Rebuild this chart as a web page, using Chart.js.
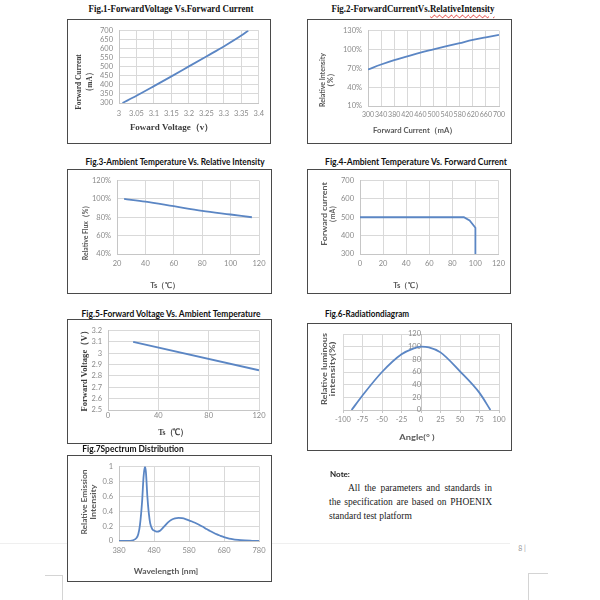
<!DOCTYPE html>
<html>
<head>
<meta charset="utf-8">
<script src="https://cdn.jsdelivr.net/npm/chart.js@4.4.1/dist/chart.umd.min.js"></script>
<style>
  html, body { margin: 0; padding: 0; background: #fff; }
  #page { position: relative; width: 600px; height: 600px; overflow: hidden; }
  .box { position: absolute; box-sizing: border-box; border: 1px solid #4a4a4a; background: #fff; }
  .box canvas { position: absolute; left: 0; top: 0; }
  .txt { position: absolute; white-space: nowrap; line-height: 1; }
  .ttl-serif { font: bold 11px "Liberation Serif", serif; color: #111; }
  .ttl-sans { font: bold 9px Lato, "Liberation Sans", sans-serif; color: #111; }
  .ax-serif { font: bold 9px "Liberation Serif", serif; color: #3c3c3c; }
  .ax-sans { font: bold 8px Lato, "Liberation Sans", sans-serif; color: #595959; }
  .note-head { font: bold 8px Lato, sans-serif; color: #222; }
  .pagenum { font: 7px Lato, sans-serif; color: #999; }
  .note { position: absolute; font: 9.5px "Liberation Serif", serif; color: #222; line-height: 12px; white-space: nowrap; }
  .just { text-align: justify; text-align-last: justify; white-space: normal; }
  .rule { position: absolute; background: #d4d4d4; }
  .wavy { text-decoration: underline wavy #e0302a; text-decoration-thickness: 1px; text-underline-offset: 2px; }
</style>
</head>
<body>
<div id="page"></div>
<script>
// Fig.1 forward voltage (V) -> forward current (mA)
const fvVoltage = [3.01, 3.05, 3.1, 3.15, 3.2, 3.25, 3.3, 3.35, 3.37];
const fvCurrent = [300, 340, 393, 447, 502, 557, 612, 672, 700];
const fvVoltTicks = [3, 3.05, 3.1, 3.15, 3.2, 3.25, 3.3, 3.35, 3.4];
const fvCurrTicks = [300, 350, 400, 450, 500, 550, 600, 650, 700];

// Fig.2 forward current (mA) -> relative intensity (%)
const fcCurrent = [300, 340, 380, 420, 460, 500, 540, 580, 620, 660, 700];
const fcIntensity = [68, 76, 83, 89, 95, 100, 105, 110, 115, 119, 123];
const fcCurrTicks = [300, 340, 380, 420, 460, 500, 540, 580, 620, 660, 700];
const fcIntTicks = [10, 40, 70, 100, 130];

// Fig.3 ambient temperature (C) -> relative flux (%)
const atTemp = [25, 40, 60, 80, 100, 115];
const atFlux = [100, 97, 92, 87, 83, 80];
const atTempTicks = [20, 40, 60, 80, 100, 120];
const atFluxTicks = [40, 60, 80, 100, 120];

// Fig.4 ambient temperature (C) -> max forward current (mA)
const derTemp = [0, 90, 95, 100, 100];
const derCurrent = [500, 500, 482, 443, 300];
const derTempTicks = [0, 20, 40, 60, 80, 100, 120];
const derCurrTicks = [300, 400, 500, 600, 700];

// Fig.5 ambient temperature (C) -> forward voltage (V)
const vtTemp = [20, 120];
const vtVoltage = [3.1, 2.85];
const vtTempTicks = [0, 40, 80, 120];
const vtVoltTicks = [2.5, 2.6, 2.7, 2.8, 2.9, 3, 3.1, 3.2];

// Fig.6 radiation diagram, angle (deg) -> relative luminous intensity (%)
const radAngle = [-89, -75, -50, -25, -10, 0, 10, 25, 50, 75, 89];
const radIntensity = [0, 23, 60, 88, 97, 100, 99, 91, 61, 27, 0];
const radAngleTicks = [-100, -75, -50, -25, 0, 25, 50, 75, 100];
const radIntTicks = [0, 20, 40, 60, 80, 100, 120];

// Fig.7 spectrum, wavelength (nm) -> relative emission
const specWave = [380, 400, 410, 420, 430, 435, 440, 446, 450, 454,
                  457, 461, 465, 469, 475, 480, 485, 490, 495, 500,
                  510, 520, 530, 540, 550, 560, 570, 580, 590, 600,
                  610, 620, 630, 640, 650, 660, 670, 680, 690, 700,
                  720, 740, 760, 780];
const specRel = [0, 0, 0.002, 0.01, 0.04, 0.09, 0.22, 0.53, 0.85, 1.0,
                 0.92, 0.6, 0.38, 0.24, 0.16, 0.14, 0.128, 0.125, 0.132, 0.15,
                 0.2, 0.25, 0.285, 0.303, 0.31, 0.306, 0.295, 0.278, 0.258, 0.238,
                 0.215, 0.19, 0.16, 0.135, 0.11, 0.088, 0.07, 0.053, 0.04, 0.03,
                 0.015, 0.007, 0.003, 0];
const specWaveTicks = [380, 480, 580, 680, 780];
const specRelTicks = [0, 0.2, 0.4, 0.6, 0.8, 1];

const lineColor = '#5b86c4';
const gridColor = '#d9d9d9';
const axisColor = '#c6c6c6';
const tickColor = '#8a8a8a';

Chart.defaults.font.family = 'Lato, "Liberation Sans", sans-serif';

const page = document.getElementById('page');

// box = border edges on the page, plot = chart area edges on the page
const figures = [
  { box: [67, 19, 270, 143], plot: [119, 27, 259, 103], x: fvVoltage, y: fvCurrent,
    xTicks: fvVoltTicks, yTicks: fvCurrTicks, xFmt: v => String(+v.toFixed(2)), xPad: 6, smooth: true },
  { box: [307, 19, 511, 143], plot: [368, 29, 499, 106], x: fcCurrent, y: fcIntensity,
    xTicks: fcCurrTicks, yTicks: fcIntTicks, yFmt: v => v + '%', xSize: 7, smooth: true },
  { box: [67, 169, 271, 293], plot: [117, 177, 259, 254], x: atTemp, y: atFlux,
    xTicks: atTempTicks, yTicks: atFluxTicks, yFmt: v => v + '%', smooth: true },
  { box: [307, 169, 510, 293], plot: [360, 177, 499, 254], x: derTemp, y: derCurrent,
    xTicks: derTempTicks, yTicks: derCurrTicks },
  { box: [67, 319, 271, 443], plot: [108, 327, 259, 410], x: vtTemp, y: vtVoltage,
    xTicks: vtTempTicks, yTicks: vtVoltTicks, yFmt: v => String(+v.toFixed(1)), xPad: 1 },
  { box: [307, 323, 511, 450], plot: [343, 334, 499, 410], x: radAngle, y: radIntensity,
    xTicks: radAngleTicks, yTicks: radIntTicks, yAtZero: true, smooth: true },
  { box: [67, 455, 271, 581], plot: [119, 465, 259, 541], x: specWave, y: specRel,
    xTicks: specWaveTicks, yTicks: specRelTicks, yFmt: v => String(+v.toFixed(1)), smooth: true }
];

function scaleOpts(axis, f, size) {
  const ticks = axis === 'x' ? f.xTicks : f.yTicks;
  const fmt = (axis === 'x' ? f.xFmt : f.yFmt) || (v => String(v));
  const opts = {
    type: 'linear',
    min: ticks[0],
    max: ticks[ticks.length - 1],
    afterBuildTicks: sc => { sc.ticks = ticks.map(v => ({ value: v })); },
    grid: { color: gridColor, drawTicks: false },
    border: { color: axisColor },
    ticks: {
      color: tickColor,
      font: { size: (axis === 'x' && f.xSize) || 7.5 },
      padding: axis === 'x' ? (f.xPad !== undefined ? f.xPad : 5) : 6,
      autoSkip: false, maxRotation: 0, minRotation: 0,
      callback: v => fmt(v)
    }
  };
  if (axis === 'y' && f.yAtZero) {
    opts.position = { x: 0 };
    opts.grid.drawTicks = true;
    opts.grid.tickLength = 3;
    opts.ticks.padding = 3;
  } else {
    opts.afterFit = sc => { if (axis === 'x') sc.height = size; else sc.width = size; };
  }
  if (axis === 'x' && f.yAtZero) {
    opts.grid.drawTicks = true;
    opts.grid.tickLength = 3;
    opts.grid.tickColor = axisColor;
    opts.ticks.padding = 2;
  }
  return opts;
}

function drawFigure(f) {
  const [L, T, R, B] = f.box;
  const [pl, pt, pr, pb] = f.plot;
  const ox = L + 1, oy = T + 1;
  const cw = R - L - 1, ch = B - T - 1;

  const box = document.createElement('div');
  box.className = 'box';
  Object.assign(box.style, { left: L + 'px', top: T + 'px', width: (R - L + 1) + 'px', height: (B - T + 1) + 'px' });
  const canvas = document.createElement('canvas');
  canvas.width = cw;
  canvas.height = ch;
  box.appendChild(canvas);
  page.appendChild(box);

  new Chart(canvas, {
    type: 'line',
    data: {
      datasets: [{
        data: f.x.map((x, i) => ({ x: x, y: f.y[i] })),
        borderColor: lineColor,
        borderWidth: 1.8,
        pointRadius: 0,
        tension: 0,
        cubicInterpolationMode: f.smooth ? 'monotone' : 'default'
      }]
    },
    options: {
      responsive: false,
      animation: false,
      events: [],
      layout: { padding: { left: f.yAtZero ? pl - ox : 0, top: pt - oy, right: ox + cw - pr, bottom: 0 } },
      plugins: { legend: { display: false }, tooltip: { enabled: false } },
      scales: {
        x: scaleOpts('x', f, oy + ch - pb),
        y: scaleOpts('y', f, pl - ox)
      }
    }
  });
}

figures.forEach(drawFigure);

// centred text, optionally rotated and squeezed to a measured width
function put(html, cx, cy, cls, width, rotate) {
  const el = document.createElement('div');
  el.className = 'txt ' + cls;
  el.innerHTML = html;
  el.style.left = cx + 'px';
  el.style.top = cy + 'px';
  page.appendChild(el);
  const sx = width ? width / el.offsetWidth : 1;
  el.style.transform = 'translate(-50%, -50%)' + (rotate ? ' rotate(-90deg)' : '') + ' scaleX(' + sx + ')';
}

const labels = [
  ['Fig.1-ForwardVoltage Vs.Forward Current', 170.5, 7.5, 'ttl-serif', 165],
  ['Fig.2-ForwardCurrentVs.<span class="wavy">RelativeIntensity</span>', 412.5, 7.5, 'ttl-serif', 163],
  ['Fig.3-Ambient Temperature Vs. Relative Intensity', 174.5, 161, 'ttl-sans', 179],
  ['Fig.4-Ambient Temperature Vs. Forward Current', 416, 161, 'ttl-sans', 182],
  ['Fig.5-Forward Voltage Vs. Ambient Temperature', 170.5, 313, 'ttl-sans', 179],
  ['Fig.6-Radiationdiagram', 367, 313, 'ttl-sans', 84],
  ['Fig.7Spectrum Distribution', 132.5, 447.5, 'ttl-sans', 101],

  ['Forward Current', 78, 82, 'ax-serif', 56, true],
  ['（mA）', 89, 82, 'ax-serif', 26, true],
  ['Foward Voltage（v）', 171.5, 127, 'ax-serif', 83],

  ['Relative Intensity', 322, 80, 'ax-sans', 54, true],
  ['（%）', 330, 80, 'ax-sans', 22, true],
  ['Forward Current（mA）', 415, 130, 'ax-sans', 84],

  ['Relative Flux（%）', 85, 231, 'ax-sans', 58, true],
  ['Ts（℃）', 165, 285, 'ax-sans', 29],

  ['Forward current', 324, 214, 'ax-sans', 63, true],
  ['（mA）', 332, 214, 'ax-sans', 24, true],
  ['Ts（℃）', 408, 285, 'ax-sans', 29],

  ['Forward Voltage（V）', 84, 369, 'ax-serif', 85, true],
  ['Ts（℃）', 173, 432, 'ax-serif', 30],

  ['Relative luminous', 324, 369, 'ax-sans', 72, true],
  ['intensity(%)', 332, 369, 'ax-sans', 55, true],
  ['Angle(° )', 417, 437, 'ax-sans', 35],

  ['Relative Emission', 84, 502, 'ax-sans', 65, true],
  ['Intensity', 93, 502, 'ax-sans', 35, true],
  ['Wavelength [nm]', 166, 571, 'ax-sans', 64]
];
labels.forEach(l => put(l[0], l[1], l[2], l[3], l[4], l[5]));

// note block
put('Note:', 340, 474, 'note-head');
const noteLines = [
  ['All the parameters and standards in', 348, 492, 488, true],
  ['the specification are based on PHOENIX', 329, 492, 502, true],
  ['standard test platform', 329, 0, 516, false]
];
noteLines.forEach(([text, left, right, cy, justify]) => {
  const el = document.createElement('div');
  el.className = 'note' + (justify ? ' just' : '');
  el.textContent = text;
  el.style.left = left + 'px';
  el.style.top = (cy - 6) + 'px';
  if (justify) el.style.width = (right - left) + 'px';
  page.appendChild(el);
});

// page furniture: footer rule, page number, corner marks
function rule(x, y, w, h, color) {
  const el = document.createElement('div');
  el.className = 'rule';
  Object.assign(el.style, { left: x + 'px', top: y + 'px', width: w + 'px', height: h + 'px' });
  if (color) el.style.background = color;
  page.insertBefore(el, page.firstChild);
}
rule(0, 543, 510, 1, '#efefef');
rule(45, 575, 18, 1);
rule(62, 575, 1, 25);
rule(528, 573, 20, 1);
rule(528, 573, 1, 27);
put('8 |', 522, 548, 'pagenum');
</script>
</body>
</html>
